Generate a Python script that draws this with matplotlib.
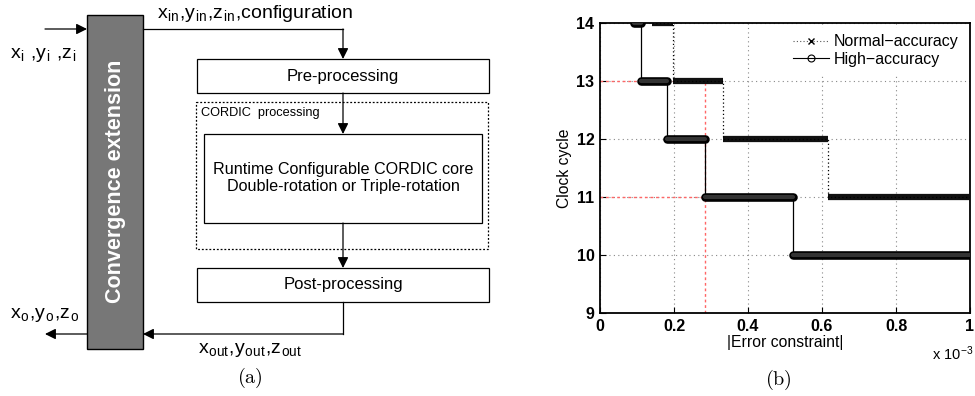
import matplotlib.pyplot as plt
import matplotlib.patches as patches
from matplotlib.lines import Line2D

plt.rcParams['font.family'] = ['Liberation Sans', 'DejaVu Sans']
plt.rcParams['mathtext.fontset'] = 'cm'

# step data, x in units of 1e-3
hi_start = [0.092, 0.11, 0.18, 0.284, 0.521]
hi_end = [0.11, 0.18, 0.284, 0.521, 1.0]
hi_cycles = [14, 13, 12, 11, 10]

norm_start = [0.14, 0.197, 0.333, 0.615]
norm_end = [0.197, 0.333, 0.615, 1.0]
norm_cycles = [14, 13, 12, 11]

# red guide lines
guide_x = 0.284
guide_levels = [13, 11]

x_ticks = [0, 0.2, 0.4, 0.6, 0.8, 1]
x_ticklabels = ['0', '0.2', '0.4', '0.6', '0.8', '1']
y_ticks = [9, 10, 11, 12, 13, 14]

fig = plt.figure(figsize=(9.75, 3.96), dpi=100)

# ---------------- (a) block diagram, pixel coordinates ----------------
ax0 = fig.add_axes([0, 0, 1, 1])
ax0.set_xlim(0, 975)
ax0.set_ylim(396, 0)
ax0.axis('off')

lw = 0.9
ap = dict(arrowstyle='-|>', mutation_scale=16, lw=lw, color='k', shrinkA=0, shrinkB=0)


def arrow(x0, y0, x1, y1):
    ax0.annotate('', xy=(x1, y1), xytext=(x0, y0), arrowprops=ap)


def line(xs, ys):
    ax0.plot(xs, ys, color='k', lw=lw)


def sub(s):
    return '$_{\\mathregular{' + s + '}}$'


ax0.add_patch(patches.Rectangle((87, 15), 56, 334, facecolor='#777777', edgecolor='k', lw=1))
ax0.text(116, 181, 'Convergence extension', rotation=90, color='white', fontsize=15.5,
         fontweight='bold', ha='center', va='center')

ax0.add_patch(patches.Rectangle((197, 59), 292, 34, facecolor='white', edgecolor='k', lw=lw))
ax0.text(343, 76, 'Pre-processing', fontsize=12, ha='center', va='center')

ax0.add_patch(patches.Rectangle((196, 102), 292, 147, facecolor='none', edgecolor='k', lw=lw,
                                linestyle=(0, (1.5, 1.5))))
ax0.text(201, 113, 'CORDIC  processing', fontsize=9.2, ha='left', va='center')

ax0.add_patch(patches.Rectangle((204, 134), 278, 89, facecolor='white', edgecolor='k', lw=lw))
ax0.text(343, 178, 'Runtime Configurable CORDIC core\nDouble-rotation or Triple-rotation',
         fontsize=11.6, ha='center', va='center', linespacing=1.15)

ax0.add_patch(patches.Rectangle((197, 268), 292, 34, facecolor='white', edgecolor='k', lw=lw))
ax0.text(343, 285, 'Post-processing', fontsize=12, ha='center', va='center')

arrow(45, 29, 87, 29)
line([143, 343], [29, 29])
arrow(343, 29, 343, 59)
arrow(343, 93, 343, 134)
arrow(343, 223, 343, 268)
line([343, 343], [302, 334])
arrow(343, 334, 143, 334)
arrow(87, 334, 45, 334)

ax0.text(157, 13, 'x' + sub('in') + ',y' + sub('in') + ',z' + sub('in') + ',configuration',
         fontsize=14, ha='left', va='center')
ax0.text(10, 55, 'x' + sub('i') + ' ,y' + sub('i') + ' ,z' + sub('i'), fontsize=14,
         ha='left', va='center')
ax0.text(10, 315, 'x' + sub('o') + ',y' + sub('o') + ',z' + sub('o'), fontsize=14,
         ha='left', va='center')
ax0.text(198, 350, 'x' + sub('out') + ',y' + sub('out') + ',z' + sub('out'), fontsize=14,
         ha='left', va='center')
ax0.text(250, 378, r'$\mathrm{(a)}$', fontsize=14.5, ha='center', va='center')
ax0.text(778, 380, r'$\mathrm{(b)}$', fontsize=14.5, ha='center', va='center')

# ---------------- (b) clock cycle vs error constraint ----------------
ax = fig.add_axes([600 / 975, 1 - 313 / 396, 370 / 975, 290 / 396])
ax.set_xlim(0, 1)
ax.set_ylim(9, 14)

red = '#ff6666'
for lev in guide_levels:
    ax.plot([0, guide_x], [lev, lev], color=red, lw=1, linestyle=(0, (2, 2)), zorder=2)
ax.plot([guide_x, guide_x], [9, guide_levels[0]], color=red, lw=1,
        linestyle=(0, (2, 2)), zorder=2)

# normal accuracy: dotted risers + dense x-marker bands
nx, ny = [], []
for s, e, c in zip(norm_start, norm_end, norm_cycles):
    nx += [s, e]
    ny += [c, c]
for i in range(len(norm_cycles)):
    ax.plot([norm_start[i], norm_end[i]], [norm_cycles[i]] * 2, color='#111111', lw=4.5,
            solid_capstyle='butt', zorder=3)
ax.plot(nx, ny, color='k', lw=0.9, linestyle=(0, (1, 2)), zorder=3)

# high accuracy: solid risers + dense circle bands
hx, hy = [], []
for s, e, c in zip(hi_start, hi_end, hi_cycles):
    hx += [s, e]
    hy += [c, c]
ax.plot(hx, hy, color='k', lw=0.9, zorder=4)
for i in range(len(hi_cycles)):
    ax.plot([hi_start[i], hi_end[i]], [hi_cycles[i]] * 2, color='k', lw=6.2,
            solid_capstyle='round', zorder=4)
    ax.plot([hi_start[i], hi_end[i]], [hi_cycles[i]] * 2, color='#333333', lw=3,
            solid_capstyle='round', zorder=4)

ax.set_xticks(x_ticks)
ax.set_xticklabels(x_ticklabels)
ax.set_yticks(y_ticks)
ax.tick_params(direction='in', labelsize=11.5, length=4, width=0.8, pad=4)
for lab in ax.get_xticklabels() + ax.get_yticklabels():
    lab.set_fontweight('bold')
ax.grid(True, color='#888888', linestyle=(0, (1, 3)), lw=0.8)
ax.set_axisbelow(True)
for sp in ax.spines.values():
    sp.set_linewidth(1.3)

ax.set_xlabel('|Error constraint|', fontsize=11.3, labelpad=1)
ax.set_ylabel('Clock cycle', fontsize=11.3, labelpad=3)
ax.text(1.01, -0.14, r'x 10$^{\mathregular{-3}}$', transform=ax.transAxes, fontsize=10.5,
        ha='right', va='center')

handles = [Line2D([], [], color='#555555', lw=0.8, linestyle=(0, (1, 2)), marker='x',
                  markersize=4, markeredgewidth=1, markeredgecolor='k'),
           Line2D([], [], color='k', lw=0.8, marker='o', markersize=5, markerfacecolor='none',
                  markeredgewidth=0.8)]
leg = ax.legend(handles, ['Normal\u2212accuracy', 'High\u2212accuracy'], loc='upper right',
                fontsize=11.5, frameon=True, fancybox=False, edgecolor='white', framealpha=1,
                handlelength=2.3, handletextpad=0.3, borderaxespad=0.3, labelspacing=0.15)

fig.savefig('out.png', dpi=100)
